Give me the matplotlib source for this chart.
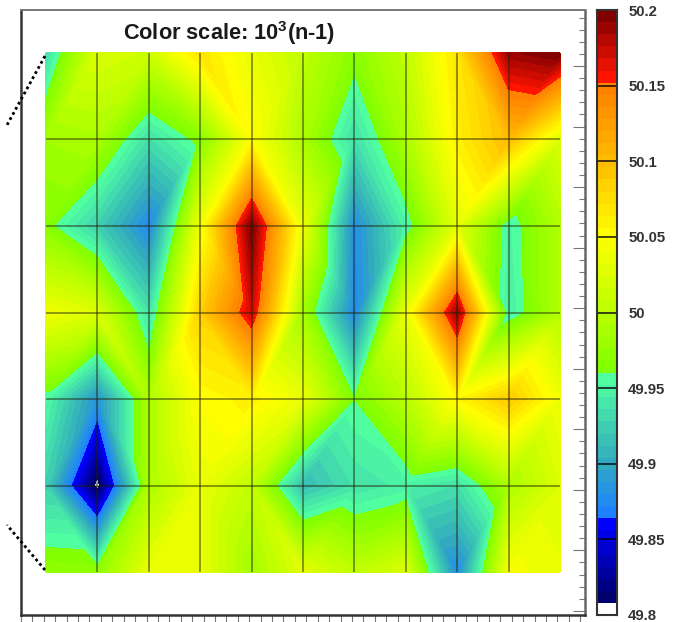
import numpy as np
import matplotlib
matplotlib.use('Agg')
import matplotlib.pyplot as plt
from matplotlib.colors import LinearSegmentedColormap, ListedColormap, BoundaryNorm
from matplotlib.lines import Line2D
from matplotlib.tri import Triangulation

plt.rcParams['font.family'] = ['Liberation Sans', 'DejaVu Sans']
plt.rcParams['mathtext.fontset'] = 'custom'
plt.rcParams['mathtext.bf'] = 'Liberation Sans:bold'
plt.rcParams['mathtext.rm'] = 'Liberation Sans:bold'

# node values, rows listed from top to bottom
row0 = [49.934, 50.024, 50.014, 50.07, 50.034, 50.004, 49.968, 50.004, 50.07, 50.19, 50.20]
row1 = [49.984, 49.989, 49.934, 49.966, 50.05, 49.989, 49.934, 49.989, 50.06, 50.10, 50.024]
row2 = [49.966, 49.925, 49.874, 50.04, 50.20, 50.034, 49.878, 49.949, 50.029, 49.949, 49.994]
row3 = [50.04, 50.024, 49.937, 50.085, 50.172, 49.984, 49.874, 50.035, 50.19, 49.944, 49.994]
row4 = [49.953, 49.883, 49.989, 50.05, 50.06, 50.034, 49.9605, 49.999, 50.055, 50.09, 50.04]
row5 = [49.925, 49.80, 49.989, 50.034, 50.004, 49.913, 49.937, 49.947, 49.935, 49.989, 50.024]
row6 = [49.974, 49.972, 50.034, 50.034, 49.984, 50.029, 50.004, 50.024, 49.878, 50.044, 50.034]
cbar_ticks = [49.8, 49.85, 49.9, 49.95, 50, 50.05, 50.1, 50.15, 50.2]
cbar_labels = ['49.8', '49.85', '49.9', '49.95', '50', '50.05', '50.1', '50.15', '50.2']

# cell diagonals, top row first: 1 = lower left to upper right, 0 = upper left to lower right
diag5 = [1, 1, 0, 0, 1, 1, 0, 0, 0, 1]
diag4 = [1, 1, 1, 1, 0, 1, 0, 0, 1, 1]
diag3 = [0, 0, 1, 0, 1, 0, 1, 1, 0, 0]
diag2 = [1, 0, 1, 0, 1, 0, 1, 0, 1, 1]
diag1 = [1, 0, 1, 1, 1, 1, 0, 1, 0, 1]
diag0 = [0, 1, 1, 0, 0, 1, 1, 0, 1, 1]

W, H = 673, 622


def px_axes(x0, y0, x1, y1):
    return fig.add_axes([x0/W, 1-y1/H, (x1-x0)/W, (y1-y0)/H])


z = np.array([row6, row5, row4, row3, row2, row1, row0])
diags = [diag0, diag1, diag2, diag3, diag4, diag5]
ny, nx = z.shape
xg, yg = np.meshgrid(np.arange(nx), np.arange(ny))

tris = []
for j in range(ny-1):
    for i in range(nx-1):
        a = j*nx+i
        b = a+1
        c = a+nx
        d = c+1
        if diags[j][i] == 1:
            tris += [[a, b, d], [a, d, c]]
        else:
            tris += [[a, b, c], [b, d, c]]
tri = Triangulation(xg.ravel(), yg.ravel(), tris)

# palette, sampled from the colour bar
levels = np.linspace(49.8, 50.2, 51)
dark = LinearSegmentedColormap.from_list('d', ['#00006e', '#0000ff'])
cool = LinearSegmentedColormap.from_list('c', [(0, '#1e82ff'), (0.375, '#32aabe'), (1, '#50ffa0')])
warm = LinearSegmentedColormap.from_list('w', [(0, '#82ff00'), (0.21, '#beff00'), (0.47, '#ffff00'),
                                               (0.73, '#ffbe00'), (1, '#ff8200')])
hot = LinearSegmentedColormap.from_list('h', ['#ff1400', '#820000'])
cols = ['white']
cols += [dark(v) for v in np.linspace(0, 1, 7)]
cols += [cool(v) for v in np.linspace(0, 1, 12)]
cols += [warm(v) for v in np.linspace(0, 1, 24)]
cols += [hot(v) for v in np.linspace(0, 1, 6)]
cmap = ListedColormap(cols)
norm = BoundaryNorm(levels, cmap.N)

fig = plt.figure(figsize=(W/100, H/100), dpi=100)
ax = px_axes(21, 10, 585, 615)
ax.set_xlim(-0.486, 10.486)
ax.set_ylim(-0.497, 6.497)
ax.tricontourf(tri, z.ravel(), levels=levels, cmap=cmap, norm=norm)
ax.vlines(np.arange(1, nx-1), 0, ny-1, color='#222200', lw=1.2, alpha=0.55)
ax.hlines(np.arange(1, ny-1), 0, nx-1, color='#222200', lw=1.2, alpha=0.55)
ax.text(3.56, 6.23, r'Color scale: 10$^{\mathbf{3}}$(n-1)', fontsize=15.7, fontweight='bold',
        color='#1a1a1a', ha='center', va='center')

for s in ax.spines.values():
    s.set_linewidth(1.8)
    s.set_color('#333333')
ax.spines['top'].set_color('#777777')
ax.spines['top'].set_linewidth(1.4)
ax.spines['right'].set_color('#666666')
ax.yaxis.tick_right()
ax.set_yticks(np.arange(-0.45, 6.5, 0.7))
ax.set_yticks(np.arange(-0.45, 6.5, 0.14), minor=True)
ax.set_xticks(np.arange(-0.486, 10.49, 1.11))
ax.set_xticks(np.arange(-0.486, 10.49, 0.222), minor=True)
ax.tick_params(axis='y', which='major', direction='in', length=9, width=0.8, color='#777777', labelright=False)
ax.tick_params(axis='y', which='minor', direction='in', length=4.5, width=0.8, color='#777777')
ax.tick_params(axis='x', which='both', direction='out', length=5, width=0.8, color='#777777', labelbottom=False)

# colour bar
cax = px_axes(597, 10, 617, 615)
cax.pcolormesh([0, 1], levels, np.array([levels[:-1]+0.004]).T, cmap=cmap, norm=norm)
cax.set_ylim(49.8, 50.2)
cax.set_xticks([])
cax.yaxis.tick_right()
cax.set_yticks(cbar_ticks)
cax.set_yticklabels(cbar_labels, fontsize=10.7, fontweight='bold', color='#333333')
cax.tick_params(axis='y', length=0, pad=8)
cax.hlines(cbar_ticks[1:-1], 0, 1, color='black', lw=1.2, alpha=0.85)
for s in cax.spines.values():
    s.set_linewidth(1.5)
    s.set_color('#333333')

# dotted leader lines on the left
fig.add_artist(Line2D([45/W, 7/W], [1-56/H, 1-125/H], color='black', lw=2, ls=(0, (1, 1.1))))
fig.add_artist(Line2D([45/W, 7/W], [1-570/H, 1-525/H], color='black', lw=2, ls=(0, (1, 1.1))))

fig.savefig('out.png', dpi=100)
